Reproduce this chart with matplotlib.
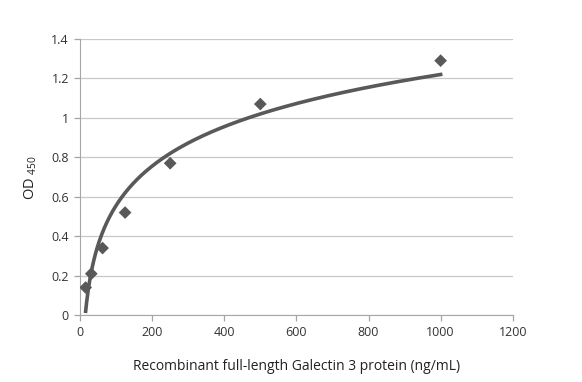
import matplotlib.pyplot as plt
import numpy as np

# Galectin 3 standard curve
conc = [15.6, 31.25, 62.5, 125, 250, 500, 1000]
od450 = [0.14, 0.21, 0.34, 0.52, 0.77, 1.07, 1.29]

x_ticks = [0, 200, 400, 600, 800, 1000, 1200]
y_ticks = [0, 0.2, 0.4, 0.6, 0.8, 1.0, 1.2, 1.4]
y_labels = ["0", "0.2", "0.4", "0.6", "0.8", "1", "1.2", "1.4"]

plt.rcParams["font.family"] = ["Open Sans", "DejaVu Sans"]
plt.rcParams["mathtext.default"] = "regular"

fig = plt.figure(figsize=(5.82, 3.82), dpi=100)
ax = fig.add_axes([0.1375, 0.175, 0.7435, 0.723])

# logarithmic trendline (Excel style), fitted on the data
a, b = np.polyfit(np.log(conc), od450, 1)
xs = np.linspace(min(conc), max(conc), 400)
ax.plot(xs, a * np.log(xs) + b, color="#595959", lw=2.6, zorder=2)

ax.scatter(conc, od450, marker="D", s=42, color="#595959", zorder=3, edgecolors="none")

ax.set_xlim(0, 1200)
ax.set_ylim(0, 1.4)
ax.set_xticks(x_ticks)
ax.set_yticks(y_ticks)
ax.set_yticklabels(y_labels)
ax.grid(axis="y", color="#c8c8c8", lw=0.9)
ax.set_axisbelow(True)

for s in ["top", "right"]:
    ax.spines[s].set_visible(False)
for s in ["left", "bottom"]:
    ax.spines[s].set_color("#a6a6a6")
ax.tick_params(colors="#a6a6a6", labelcolor="#333333", labelsize=9, length=4, width=0.9,
               pad=4)

ax.set_xlabel("Recombinant full-length Galectin 3 protein (ng/mL)", fontsize=10,
              color="#222222", labelpad=14)
ax.set_ylabel("OD $_{450}$", fontsize=10.5, color="#222222", labelpad=9)

fig.savefig("out.png", dpi=100)
